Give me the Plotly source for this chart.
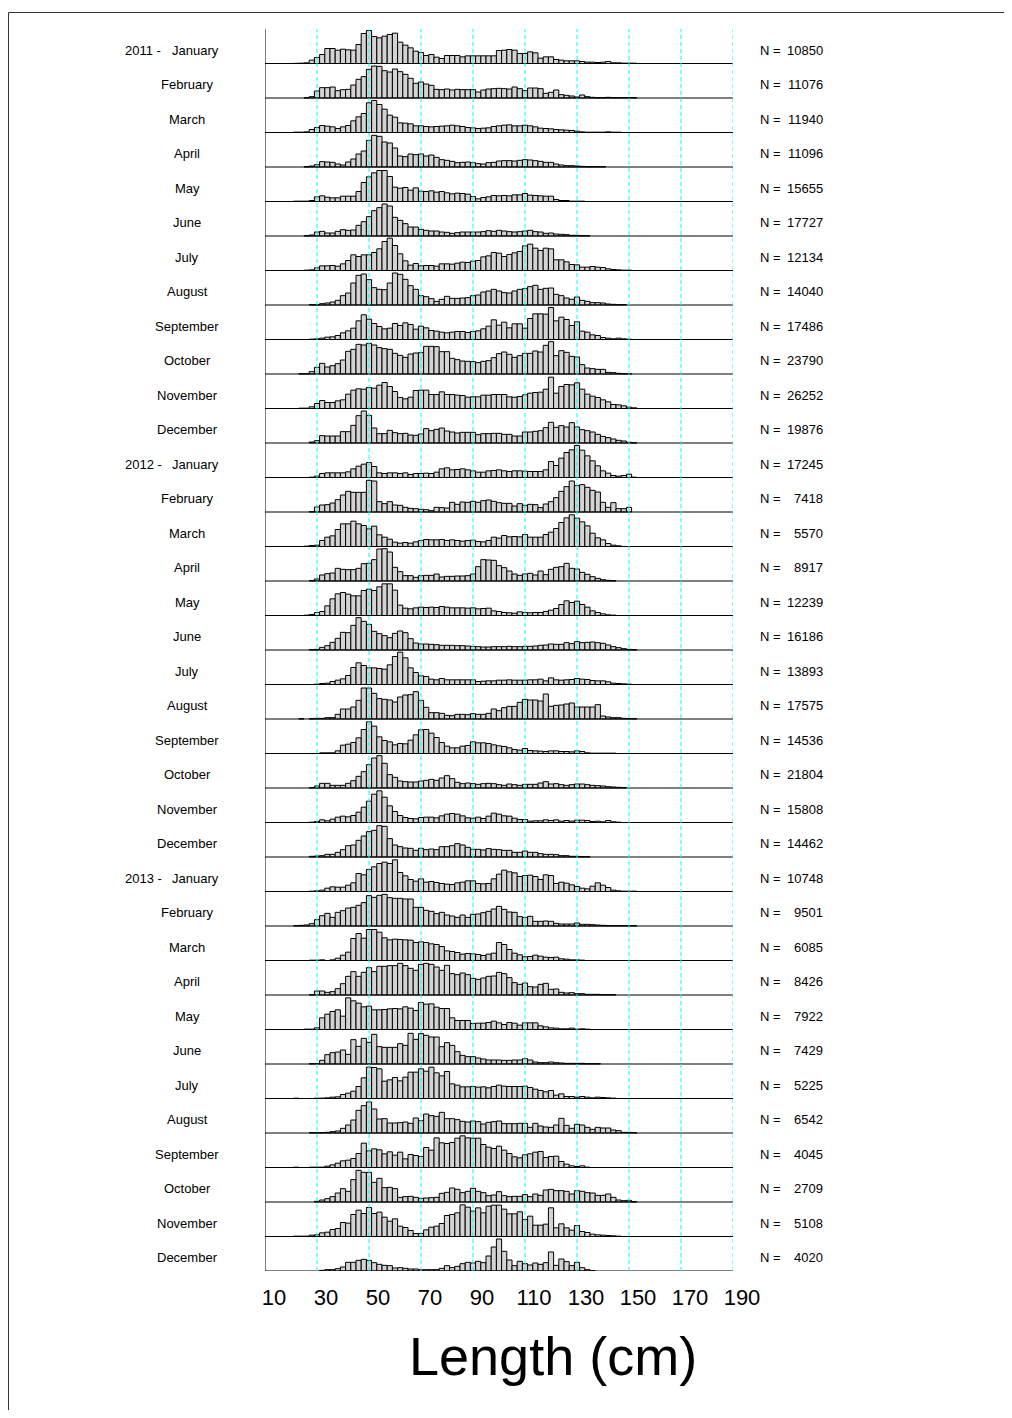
import plotly.graph_objects as go

# ---------------- data ----------------
BIN_START = 21   # left edge (cm) of first 2-cm length class
BIN_WIDTH = 2
MONTHS = ["January", "February", "March", "April", "May", "June", "July",
          "August", "September", "October", "November", "December"]
YEARS = ["2011", "2012", "2013"]
N_2011 = [10850, 11076, 11940, 11096, 15655, 17727, 12134, 14040, 17486, 23790, 26252, 19876]
N_2012 = [17245, 7418, 5570, 8917, 12239, 16186, 13893, 17575, 14536, 21804, 15808, 14462]
N_2013 = [10748, 9501, 6085, 8426, 7922, 7429, 5225, 6542, 4045, 2709, 5108, 4020]
X_TICKS = [10, 30, 50, 70, 90, 110, 130, 150, 170, 190]
X_LABEL = "Length (cm)"

# relative frequency per 2-cm class (row maximum ~ 100), classes 21-23, 23-25, ...
jan_2011 = [0.5,1,2,10,18,27,45,45,40,43, 41,40,57,90,99,81,77,82,87,91, 64,55,47,37,33,24,27,19,15,24,
            24,24,20,23,23,23,23,23,23,39, 40,42,40,30,30,35,32,16,20,20, 12,10,8,8,8,6,4,4,3,4, 6,2,2,1,1,1]
feb_2011 = [0,0,1,4,21,31,31,33,22,25, 26,39,56,64,86,96,95,82,78,87, 79,71,59,44,48,42,38,26,25,27,
            24,26,25,25,25,18,24,27,28,29, 28,27,33,28,22,30,30,28,14,17, 24,10,8,6,3,9,4,2,1,1, 2,1,1,1,1,1]
mar_2011 = [1,1,2,9,15,21,19,17,12,17, 21,35,47,57,89,96,84,70,52,46, 29,28,26,20,20,18,17,18,19,20,
            22,20,18,15,14,12,13,14,18,20, 22,23,20,20,22,20,17,13,12,11, 9,8,7,6,4,2,1,1,1,1, 2,1,1,0,0,0]
apr_2011 = [0,0,1,3,7,16,15,14,9,6, 15,24,39,48,80,95,92,75,72,57, 33,31,39,37,39,33,36,29,22,20,
            17,13,14,15,13,10,9,13,14,18, 19,19,18,20,22,21,19,17,14,14, 9,6,4,4,3,2,1,1,1,1, 0,0,0,0,0,0]
may_2011 = [1,1,1,3,14,17,13,11,11,16, 16,16,30,57,74,86,93,93,75,43, 40,42,34,41,31,30,32,28,30,26,
            23,25,24,22,15,8,12,14,18,17, 18,17,20,20,24,19,18,17,16,16, 6,3,3,1,1,1,0,0,0,0, 0,0,0,0,0,0]
jun_2011 = [0,0,1,3,12,14,9,9,14,19, 17,18,32,43,58,76,85,96,90,56, 47,37,27,27,20,17,15,15,12,11,
            8,10,12,12,12,12,13,16,14,17, 15,13,12,13,15,17,13,12,8,9, 6,5,4,2,2,1,1,0,0,0, 0,0,0,0,0,0]
jul_2011 = [0,0,1,2,8,14,14,15,13,20, 30,47,42,47,47,54,65,87,97,75, 50,29,16,21,14,15,15,13,20,20,
            19,22,25,24,28,30,41,44,54,52, 42,48,53,57,74,79,67,60,67,65, 32,32,26,18,17,10,10,12,10,9, 5,3,2,1,1,0]
aug_2011 = [0,0,0,1,1,4,6,9,14,28, 36,66,89,93,76,52,47,46,66,96, 92,77,58,47,28,25,19,11,17,26,
            20,20,21,22,28,30,39,42,47,42, 37,36,42,47,49,55,59,47,50,51, 32,28,21,17,24,14,11,7,7,6, 3,2,1,1,0,0]
sep_2011 = [0,0,0,1,2,4,7,8,12,20, 26,34,56,74,61,48,39,32,34,48, 42,50,45,31,40,35,27,25,22,20,
            22,24,24,21,24,26,32,40,59,43, 52,35,47,47,34,63,77,77,76,96, 56,67,60,42,53,25,22,14,12,6, 4,2,4,2,1,0]
oct_2011 = [0,1,1,7,20,32,21,25,31,42, 68,74,89,87,92,87,79,76,74,62, 56,50,60,63,64,83,83,82,67,67,
            47,43,39,38,37,34,38,40,49,61, 66,59,50,55,62,62,69,66,86,97, 55,70,65,53,51,28,18,16,14,14, 5,4,2,1,1,0]
nov_2011 = [0,1,1,5,15,24,18,18,23,26, 43,55,59,58,63,61,70,78,66,51, 33,29,34,54,55,55,42,42,50,42,
            42,40,39,34,35,35,40,40,42,42, 42,35,34,36,41,46,48,49,58,94, 46,66,72,71,77,58,43,37,33,26, 20,12,11,8,4,2]
dec_2011 = [0,0,0,3,7,22,21,21,21,34, 34,53,82,96,83,45,28,28,38,31, 28,29,24,23,27,43,37,41,45,36,
            33,30,32,32,32,25,28,28,29,29, 26,26,21,21,33,33,35,37,46,62, 47,52,48,61,48,40,37,33,26,20, 16,12,8,6,2,1]
jan_2012 = [0,0,0,1,4,12,14,14,14,14, 17,26,34,40,45,33,14,12,14,14, 12,14,9,12,12,13,12,16,26,29,
            23,24,26,23,20,16,16,20,21,23, 20,18,20,20,19,18,18,18,23,48, 36,58,75,83,96,82,65,50,35,20, 13,6,4,6,10,1]
feb_2012 = [0,0,0,1,15,21,22,27,37,51, 62,59,59,59,95,93,31,25,31,21, 20,14,11,10,8,7,4,14,13,12,
            29,23,30,29,32,29,34,36,32,28, 26,26,18,25,20,23,22,13,24,31, 43,62,76,93,79,82,74,65,60,29, 14,28,10,10,14,0]
mar_2012 = [0,0,1,3,4,18,28,32,51,68, 68,76,68,63,53,61,35,28,22,13, 10,12,10,14,18,21,20,20,21,18,
            20,18,16,18,19,15,14,18,28,25, 33,29,30,29,36,28,28,28,36,43, 54,72,86,95,85,74,62,40,26,20, 9,4,2,0,0,0]
apr_2012 = [0,0,0,1,6,18,22,24,38,35, 34,34,38,52,53,64,96,97,87,41, 28,16,16,11,16,17,17,21,12,14,
            14,15,15,16,21,43,64,63,62,46,40,30, 21,17,21,23,18,30,19,35, 41,43,53,38,36,26,20,13,8,4, 2,1]
may_2012 = [0,0,1,3,9,12,29,50,65,69, 64,59,59,75,79,75,86,95,95,76, 31,22,20,23,25,24,25,24,27,25,
            23,23,23,22,23,20,21,22,14,12, 9,8,7,11,9,8,9,9,12,16, 21,33,44,39,43,33,25,14,9,5, 2,1,0,0,0,0]
jun_2012 = [0,0,0,1,2,8,13,23,35,53, 52,74,97,86,77,56,49,43,37,50, 57,52,34,21,18,18,17,16,14,14,
            14,13,13,12,11,10,9,9,10,10, 10,11,10,10,11,11,12,14,15,18, 17,17,22,19,25,22,23,24,22,20, 15,10,7,4,2,1]
jul_2012 = [0,0,0,0,1,3,4,9,13,17, 27,51,65,57,50,50,48,46,59,84, 97,80,50,36,26,24,16,14,18,14,
            14,14,14,14,14,9,10,11,11,13, 13,14,13,13,13,14,14,16,11,20, 14,13,14,15,18,16,15,12,11,11, 8,4,3,2,1,0]
aug_2012 = [0,1,0,1,2,2,4,4,14,30, 30,36,56,93,93,77,61,59,57,51, 66,72,73,82,56,35,19,19,17,11,
            10,14,14,13,16,14,14,17,30,25, 34,38,38,50,59,57,57,54,75,38, 41,42,45,48,36,36,36,36,43,9, 6,4,4,2,1,1]
sep_2012 = [0,0,0,0,0,2,2,2,8,25, 28,33,47,72,95,82,50,39,35,26, 30,29,40,56,71,72,61,48,33,22,
            17,17,22,24,35,32,32,30,26,23,21, 17,12,10,15,9,8,7,6,8,8, 6,6,5,8,6,2,1,1,1,1, 1]
oct_2012 = [0,0,0,1,6,14,14,8,8,8, 14,22,35,49,70,90,97,74,40,32, 21,19,18,18,21,23,26,23,30,37,
            28,17,13,15,13,11,13,14,13,10, 8,12,10,8,11,11,11,15,19,12, 13,10,8,10,12,12,10,8,7,6, 4,3,2,1,0,0]
nov_2012 = [0,0,0,1,3,8,5,10,16,19, 17,21,31,46,64,85,95,76,50,33, 21,15,12,11,15,16,16,14,20,25,
            27,25,20,14,13,16,12,19,28,25, 20,19,13,9,9,4,5,5,8,6, 8,4,6,4,7,7,6,3,4,2, 6,2,1,0,0,0]
dec_2012 = [0,0,0,2,3,4,8,8,14,22, 34,36,50,63,76,80,94,92,55,36, 31,27,26,20,26,22,24,22,31,31,
            34,40,36,29,23,23,21,25,23,22, 20,20,14,14,18,14,14,10,8,8, 7,4,4,2,2,1,1,0,0,0, 0,0,0,0,0,0]
jan_2013 = [0,0,0,1,2,4,10,14,13,13, 19,26,54,50,66,74,84,88,84,95, 57,47,36,31,38,28,30,27,24,22,
            21,26,28,32,32,24,23,24,38,52, 64,59,56,45,48,49,45,36,50,48, 24,28,25,20,15,10,8,16,26,19, 12,4,2,1,1,1]
feb_2013 = [1,2,3,7,19,31,38,26,41,46, 54,56,62,70,91,86,92,95,85,83, 83,81,81,56,56,47,44,37,41,33,
            30,26,33,26,35,36,40,44,51,59,50, 42,41,28,26,29,14,14,15,14,8, 6,6,6,9,5,5,4,3,2,1, 1,1,1,1,1]
mar_2013 = [0,0,0,1,1,2,0,2,7,16, 25,66,81,67,93,93,85,68,62,64, 63,62,61,54,56,54,50,48,42,29,
            27,24,19,21,20,18,15,19,22,54,48, 33,22,17,11,12,16,13,10,9,10, 5,4,2,2,1,0,0,0,0,0, 0]
apr_2013 = [0,0,0,1,12,12,8,10,19,34, 56,70,56,68,82,70,86,86,88,88, 95,88,80,74,92,95,92,84,74,89,
            64,61,66,61,50,47,51,56,57,68, 64,52,37,32,36,25,24,32,35,17, 18,8,6,7,4,4,2,2,2,1, 1,1,0,0,0,0]
may_2013 = [0,0,1,1,5,35,46,54,59,40, 95,86,79,68,70,59,59,60,62,63, 62,68,64,57,81,76,77,67,63,63,
            35,27,27,27,18,19,19,21,25,20, 15,21,19,13,20,20,20,11,8,5, 4,2,2,4,1,2,1,0,0,0, 0,0,0,0,0,0]
jun_2013 = [0,0,0,1,1,11,28,34,36,42, 29,73,53,77,65,89,52,50,50,50, 61,56,92,74,91,86,81,81,52,64,
            56,37,26,22,22,18,15,12,12,12, 11,11,12,12,16,12,6,4,4,6, 4,3,2,2,2,2,1,1,1,0, 0,0,0,0,0,0]
jul_2013 = [1,0,0,0,1,1,2,4,5,12, 16,22,36,62,94,93,89,52,56,63, 53,64,79,79,89,82,94,77,68,81,
            44,40,35,35,36,34,35,32,36,40, 37,36,36,36,37,33,28,24,20,24, 10,14,6,6,4,6,4,2,4,3, 2,1,0,0,0,0]
aug_2013 = [0,0,0,1,1,1,2,4,6,14, 24,39,68,82,93,72,42,43,30,30, 31,33,29,45,37,57,52,50,62,43,
            43,40,35,33,36,34,27,32,34,36, 28,28,28,29,29,17,29,21,18,17, 24,44,23,14,26,24,17,11,17,15, 15,9,7,2,2,1]
sep_2013 = [1,0,0,1,1,1,4,8,13,20, 22,27,42,73,50,56,53,41,47,37, 46,26,39,36,33,60,52,89,74,72,
            75,88,95,89,88,88,69,61,57,64, 52,42,32,29,38,41,46,48,30,33, 34,18,10,5,3,5,1,0,0,0, 0,0,0,0,0,0]
oct_2013 = [0,0,0,0,2,6,10,16,27,40, 32,67,95,89,89,59,71,43,44,40, 14,16,17,14,11,12,13,14,26,29,
            42,38,28,32,41,32,28,19,21,31, 19,16,17,17,22,16,24,20,36,38, 34,34,32,24,34,32,28,27,20,20, 24,14,6,4,5,1]
nov_2013 = [1,1,1,4,5,11,13,21,24,42, 40,66,79,69,87,69,73,58,46,53, 31,27,18,9,9,20,28,31,39,63,66,
            71,95,88,76,86,71,91,94,94,82, 68,68,74,51,61,34,34,37,86,26, 38,26,19,33,15,12,7,5,4,3, 2,1]
dec_2013 = [0,0,0,0,0,2,4,4,7,12, 26,26,32,35,32,25,20,17,16,9, 10,8,6,6,4,4,4,4,8,16,10,
            14,22,26,24,29,25,45,72,96,59, 33,16,29,22,18,24,20,25,57,17, 36,28,16,26,10,4,1]

ROWS = [jan_2011, feb_2011, mar_2011, apr_2011, may_2011, jun_2011, jul_2011, aug_2011,
        sep_2011, oct_2011, nov_2011, dec_2011,
        jan_2012, feb_2012, mar_2012, apr_2012, may_2012, jun_2012, jul_2012, aug_2012,
        sep_2012, oct_2012, nov_2012, dec_2012,
        jan_2013, feb_2013, mar_2013, apr_2013, may_2013, jun_2013, jul_2013, aug_2013,
        sep_2013, oct_2013, nov_2013, dec_2013]
N_ALL = N_2011 + N_2012 + N_2013

# ---------------- styling / layout ----------------
OFF = 8                       # page (body) offset of the figure in the browser
W, H = 1004, 1402
ML, MT = 265 - OFF, 29 - OFF
PW, PH = 468, 1242
MR, MB = W - ML - PW, H - MT - PH
NROW = len(ROWS)
SCALE = 1 / 103.5          # relative frequency units -> row units
FONT = "Liberation Sans, Arial, Helvetica, sans-serif"


def px_x(p):
    """screen pixel x -> paper coordinate"""
    return (p - OFF - ML) / PW


def px_y(p):
    """screen pixel y -> paper coordinate"""
    return (MT + PH - (p - OFF)) / PH


fig = go.Figure()
for i, row in enumerate(ROWS):
    xs, ys = [], []
    for k, v in enumerate(row):
        if v > 0:
            xs.append(BIN_START + BIN_WIDTH * (k + 0.5))
            ys.append(v * SCALE)
    fig.add_trace(go.Bar(
        x=xs, y=ys, base=-i, width=BIN_WIDTH,
        marker=dict(color="#d3d3d3", line=dict(color="black", width=1)),
        showlegend=False, hoverinfo="skip"))

shapes = []
# baselines of each row
for i in range(NROW):
    shapes.append(dict(type="line", xref="x", yref="y", x0=X_TICKS[0], x1=190.8,
                       y0=-i, y1=-i, line=dict(color="black", width=1), layer="above"))
# left axis line
shapes.append(dict(type="line", xref="x", yref="y", x0=X_TICKS[0], x1=X_TICKS[0],
                   y0=-(NROW - 1), y1=1, line=dict(color="black", width=1), layer="above"))
# dashed reference lines
for xv in X_TICKS[1:]:
    shapes.append(dict(type="line", xref="x", yref="y", x0=xv, x1=xv,
                       y0=-(NROW - 1), y1=1,
                       line=dict(color="#00ffff", width=1, dash="4px,3px"), layer="above"))
# outer frame (top & left visible)
shapes.append(dict(type="rect", xref="paper", yref="paper",
                   x0=px_x(8.5), x1=px_x(1040), y0=px_y(1440), y1=px_y(12.5),
                   line=dict(color="#333333", width=1), fillcolor="rgba(0,0,0,0)"))

annotations = []
for i in range(NROW):
    month = MONTHS[i % 12]
    yv = -i + 0.39
    mx = 195.5 if i % 12 == 0 else 187
    annotations.append(dict(xref="paper", yref="y", x=px_x(mx), y=yv, text=month,
                            showarrow=False, xanchor="center", yanchor="middle",
                            font=dict(family=FONT, size=13, color="black")))
    if i % 12 == 0:
        annotations.append(dict(xref="paper", yref="y", x=px_x(123), y=yv,
                                text=YEARS[i // 12] + " -", showarrow=False,
                                xanchor="left", yanchor="middle",
                                font=dict(family=FONT, size=13, color="black")))
    annotations.append(dict(xref="paper", yref="y", x=px_x(758), y=yv, text="N =",
                            showarrow=False, xanchor="left", yanchor="middle",
                            font=dict(family=FONT, size=13, color="black")))
    annotations.append(dict(xref="paper", yref="y", x=px_x(825), y=yv, text=str(N_ALL[i]),
                            showarrow=False, xanchor="right", yanchor="middle",
                            font=dict(family=FONT, size=13, color="black")))

annotations.append(dict(xref="paper", yref="paper", x=px_x(553), y=px_y(1356),
                        text=X_LABEL, showarrow=False, xanchor="center", yanchor="middle",
                        font=dict(family=FONT, size=54, color="black")))

fig.update_layout(
    width=W, height=H,
    margin=dict(l=ML, r=MR, t=MT, b=MB, pad=0),
    paper_bgcolor="white", plot_bgcolor="white",
    barmode="overlay",
    shapes=shapes, annotations=annotations,
    xaxis=dict(range=[X_TICKS[0], X_TICKS[-1]], tickvals=X_TICKS,
               ticktext=[str(t) for t in X_TICKS], ticks="", showgrid=False,
               zeroline=False, showline=False, ticklabelshift=9, ticklabelstandoff=11,
               tickfont=dict(family=FONT, size=22, color="black")),
    yaxis=dict(range=[-(NROW - 1), 1], visible=False, showgrid=False, zeroline=False),
)

fig.write_html("out.html")
